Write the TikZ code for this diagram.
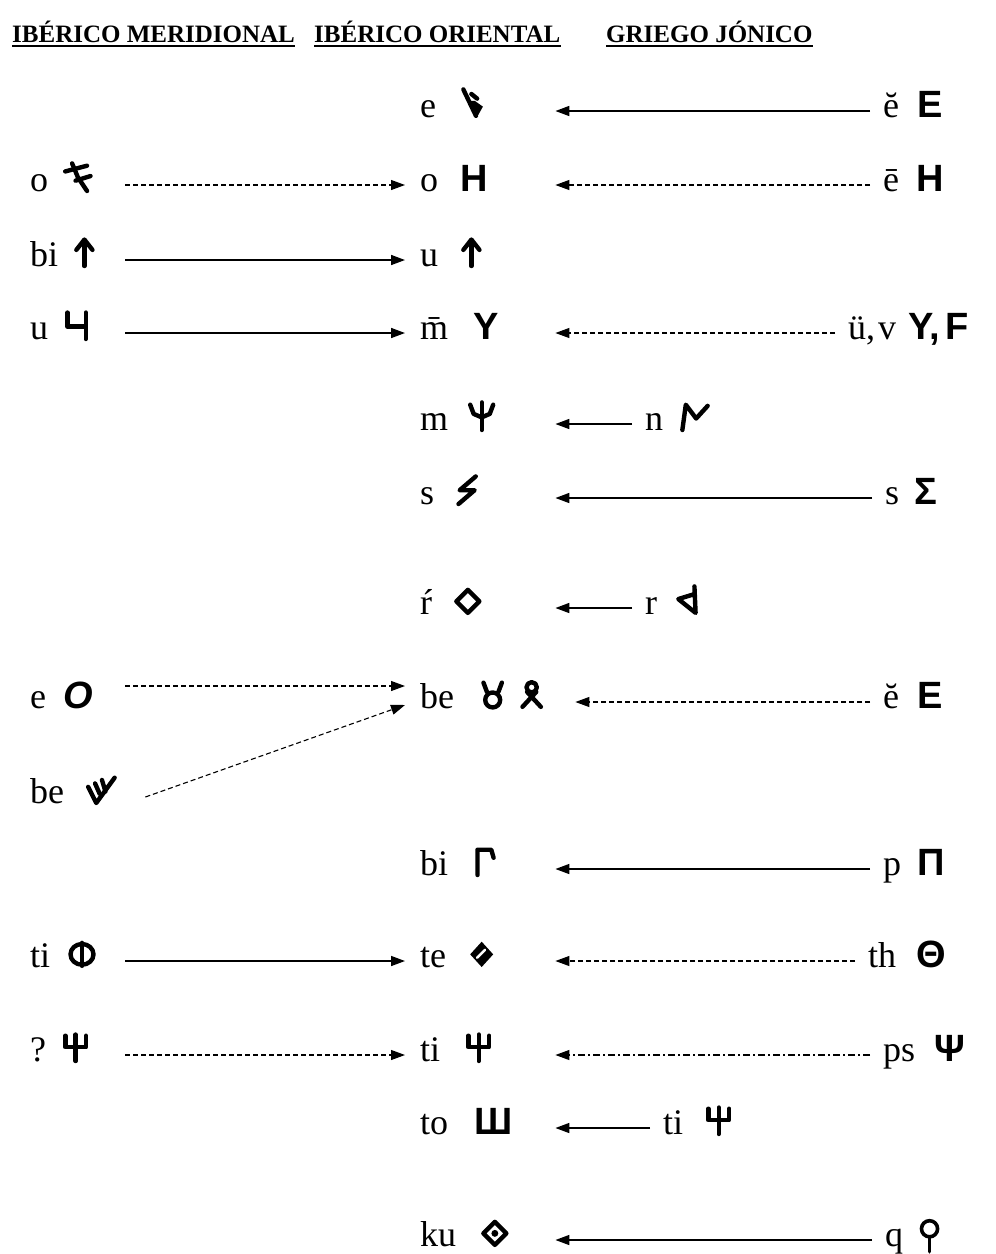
\documentclass[tikz,border=0pt]{standalone}
\usepackage{fontspec}
\setmainfont{Liberation Serif}
\newfontfamily\grk{Liberation Sans}
\usetikzlibrary{arrows.meta}
\newcommand\gly[2]{\tikz[baseline=0pt,x=1.15pt,y=1.15pt,line width=4.4pt,line cap=round,line join=round]{\path[use as bounding box] (0,0) rectangle (#1,24); #2}}
\newcommand\gk[1]{{\fontsize{38}{40}\selectfont\grk\bfseries #1}}
\newcommand\gE{\gly{18}{\draw (1,24) -- (12,1); \fill (5,14) -- (11,14) -- (18,9) -- (13,0) -- cycle; \draw (8,20) -- (13,16);}}
\newcommand\gOl{\gly{22}{\draw (0,17) -- (19,22); \draw (6,24) -- (11,12) -- (19,0); \draw (9,9) -- (22,13);}}
\newcommand\gUp{\gly{16}{\draw (8,0) -- (8,22); \draw (1,14) -- (8,23) -- (15,14);}}
\newcommand\gChe{\gly{18}{\draw (1,23) -- (1,11) -- (17,11); \draw (17,23) -- (17,0);}}
\newcommand\gM{\gly{20}{\draw (0,22) -- (3,14) -- (10,11) -- (17,14) -- (20,22); \draw (10,24) -- (10,0);}}
\newcommand\gN{\gly{24}{\draw (1,0) -- (4,22) -- (13,10) -- (23,21);}}
\newcommand\gS{\gly{18}{\draw (17,24) -- (3,12) -- (16,12) -- (2,0);}}
\newcommand\gDia{\gly{22}{\draw (11,1) -- (21,11) -- (11,21) -- (1,11) -- cycle;}}
\newcommand\gTri{\gly{18}{\draw (15,24) -- (16,1) -- (1,13) -- (14,17);}}
\newcommand\gBeA{\gly{20}{\draw (10,7) circle (6.5); \draw (2,22) -- (5,14); \draw (18,22) -- (15,14);}}
\newcommand\gBeB{\gly{20}{\draw (10,18) circle (4.5); \draw (2,1) -- (14,14); \draw (18,1) -- (6,14);}}
\newcommand\gBeL{\gly{24}{\draw (0,14) -- (7,0) -- (23,22); \draw (6,17) -- (10,8); \draw (12,20) -- (15,10);}}
\newcommand\gGam{\gly{18}{\draw (2,0) -- (2,22) -- (14,22) -- (16,15);}}
\newcommand\gPhi{\gly{24}{\draw (12,11) ellipse (10 and 9); \draw (12,1) -- (12,21);}}
\newcommand\gTe{\gly{20}{\fill (10,0) -- (20,11) -- (10,22) -- (0,11) -- cycle; \draw[white,line width=2.4pt] (6,8) -- (13,15);}}
\newcommand\gPsi{\gly{20}{\draw (1,22) -- (1,12) -- (19,12) -- (19,22); \draw (10,23) -- (10,0);}}
\newcommand\gKu{\gly{22}{\draw (11,1) -- (21,11) -- (11,21) -- (1,11) -- cycle; \fill (11,11) circle (3);}}
\newcommand\gKop{\gly{18}{\draw[line width=3.6pt] (9,15) circle (7); \draw[line width=3.6pt] (9,8) -- (9,-5);}}
\newcommand\lw[2]{\makebox[#1][l]{#2}}
\tikzset{
 cell/.style={anchor=base west, inner ysep=0pt, text height=22pt, text depth=10pt, font=\fontsize{36}{40}\selectfont},
 lcell/.style={cell, inner xsep=0pt},
 mcell/.style={cell, inner xsep=15pt},
 rcell/.style={cell, inner xsep=13pt},
 sol/.style={-{Triangle[length=14pt,width=10pt]}, line width=1.6pt},
 dsh/.style={sol, line width=1.1pt, dash pattern=on 5pt off 3pt},
 ddt/.style={sol, line width=1.1pt, dash pattern=on 7pt off 3pt on 2pt off 3pt},
 hdr/.style={anchor=base west, inner sep=0pt, font=\fontsize{25}{28}\selectfont\bfseries},
 uline/.style={line width=2pt}
}
\begin{document}
\begin{tikzpicture}[x=1pt,y=-1pt]
\path[use as bounding box, fill=white] (0,0) rectangle (996,1254);
% headers
\node[hdr] (H1) at (12,42) {IB\'ERICO MERIDIONAL};
\node[hdr] (H2) at (314,42) {IB\'ERICO ORIENTAL};
\node[hdr] (H3) at (606,42) {GRIEGO J\'ONICO};
\foreach \h in {H1,H2,H3} \draw[uline] ([yshift=-4pt]\h.base west) -- ([yshift=-4pt]\h.base east);
% row 1
\node[mcell] (M1) at (405,117) {\lw{120pt}{e\hspace{26pt}\gE}};
\node[rcell] (R1) at (870,117) {\u{e}\hspace{18pt}\gk{E}};
\draw[sol] (R1.west) -- (M1.east);
% row 2
\node[lcell] (L2) at (30,191) {\lw{95pt}{o\hspace{17pt}\gOl}};
\node[mcell] (M2) at (405,191) {\lw{120pt}{o\hspace{22pt}\gk{H}}};
\node[rcell] (R2) at (870,191) {\=e\hspace{17pt}\gk{H}};
\draw[dsh] (L2.east) -- (M2.west);
\draw[dsh] (R2.west) -- (M2.east);
% row 3
\node[lcell] (L3) at (30,266) {\lw{95pt}{bi\hspace{17pt}\gUp}};
\node[mcell] (M3) at (405,266) {\lw{120pt}{u\hspace{24pt}\gUp}};
\draw[sol] (L3.east) -- (M3.west);
% row 4
\node[lcell] (L4) at (30,339) {\lw{95pt}{u\hspace{18pt}\gChe}};
\node[mcell] (M4) at (405,339) {\lw{120pt}{\={m}\hspace{25pt}\gk{Y}}};
\node[rcell] (R4) at (835,339) {\"u,\hspace{3pt}v\hspace{12pt}\gk{Y,\hspace{6pt}F}};
\draw[sol] (L4.east) -- (M4.west);
\draw[dsh] (R4.west) -- (M4.east);
% row 5
\node[mcell] (M5) at (405,430) {\lw{120pt}{m\hspace{22pt}\gM}};
\node[rcell] (R5) at (632,430) {n\hspace{18pt}\gN};
\draw[sol] (R5.west) -- (M5.east);
% row 6
\node[mcell] (M6) at (405,504) {\lw{120pt}{s\hspace{22pt}\gS}};
\node[rcell] (R6) at (872,504) {s\hspace{15pt}\gk{Σ}};
\draw[sol] (R6.west) -- (M6.east);
% row 7
\node[mcell] (M7) at (405,614) {\lw{120pt}{\'r\hspace{23pt}\gDia}};
\node[rcell] (R7) at (632,614) {r\hspace{20pt}\gTri};
\draw[sol] (R7.west) -- (M7.east);
% row 8
\node[lcell] (L8) at (30,708) {\lw{95pt}{e\hspace{17pt}{\fontsize{38}{40}\selectfont\grk\bfseries\itshape O}}};
\node[mcell] (M8) at (405,708) {\lw{140pt}{be\hspace{27pt}\gBeA\hspace{16pt}\gBeB}};
\node[rcell] (R8) at (870,708) {\u{e}\hspace{18pt}\gk{E}};
\draw[dsh] ([yshift=16pt]L8.east) -- ([yshift=16pt]M8.west);
\draw[dsh] (R8.west) -- (M8.east);
% row 9
\node[lcell] (L9) at (30,803) {\lw{115pt}{be\hspace{24pt}\gBeL}};
\draw[dsh] (L9.east) -- ([yshift=-3pt]M8.west);
% row 10
\node[mcell] (M10) at (405,875) {\lw{120pt}{bi\hspace{27pt}\gGam}};
\node[rcell] (R10) at (870,875) {p\hspace{16pt}\gk{Π}};
\draw[sol] (R10.west) -- (M10.east);
% row 11
\node[lcell] (L11) at (30,967) {\lw{95pt}{ti\hspace{18pt}\gPhi}};
\node[mcell] (M11) at (405,967) {\lw{120pt}{te\hspace{24pt}\gTe}};
\node[rcell] (R11) at (855,967) {th\hspace{20pt}\gk{Θ}};
\draw[sol] (L11.east) -- (M11.west);
\draw[dsh] (R11.west) -- (M11.east);
% row 12
\node[lcell] (L12) at (30,1061) {\lw{95pt}{?\hspace{18pt}\gPsi}};
\node[mcell] (M12) at (405,1061) {\lw{120pt}{ti\hspace{27pt}\gPsi}};
\node[rcell] (R12) at (870,1061) {ps\hspace{19pt}\gk{Ψ}};
\draw[dsh] (L12.east) -- (M12.west);
\draw[ddt] (R12.west) -- (M12.east);
% row 13
\node[mcell] (M13) at (405,1134) {\lw{120pt}{to\hspace{26pt}\gk{Ш}}};
\node[rcell] (R13) at (650,1134) {ti\hspace{24pt}\gPsi};
\draw[sol] (R13.west) -- (M13.east);
% row 14
\node[mcell] (M14) at (405,1246) {\lw{120pt}{ku\hspace{26pt}\gKu}};
\node[rcell] (R14) at (872,1246) {q\hspace{16pt}\gKop};
\draw[sol] (R14.west) -- (M14.east);
\end{tikzpicture}
\end{document}
